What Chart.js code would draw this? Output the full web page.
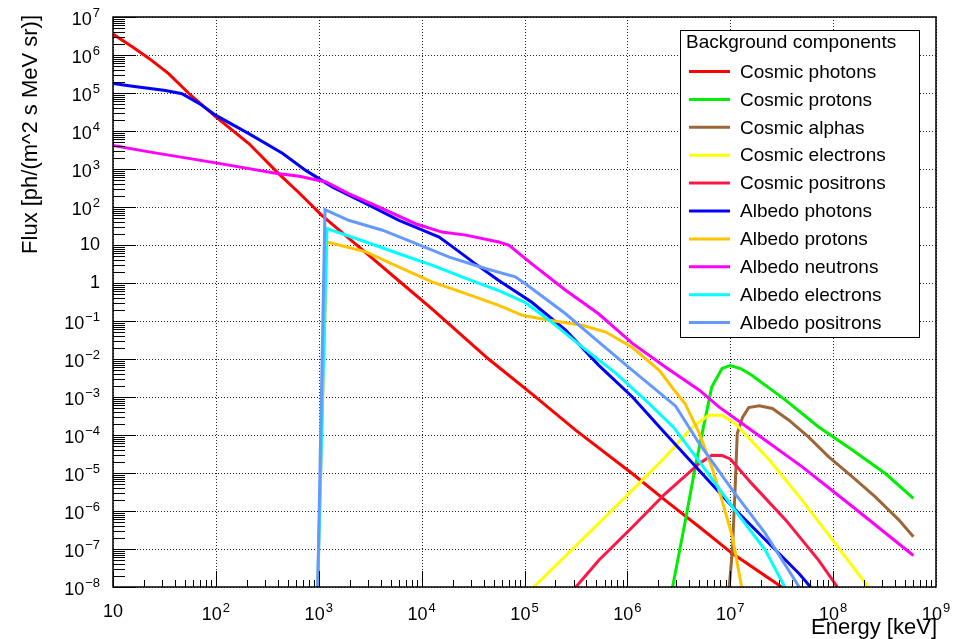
<!DOCTYPE html>
<html>
<head>
<meta charset="utf-8">
<script src="https://cdn.jsdelivr.net/npm/chart.js@4.4.0/dist/chart.umd.min.js"></script>
<style>
  html, body { margin: 0; padding: 0; background: #fff; }
  #wrap { width: 954px; height: 639px; }
</style>
</head>
<body>
<div id="wrap"><canvas id="fluxChart" width="954" height="639"></canvas></div>
<script>
// Background spectra, energy in keV, flux in ph/(m^2 s MeV sr)
const cosmicPhotonsE = [10, 15.5, 22.4, 34.7, 55, 100, 209, 407, 646, 1070, 2880, 6030, 1.26e4, 4.47e4, 1.17e5, 3.16e5, 1.12e6, 2.34e6, 5.01e6, 1.05e7, 3.16e7];
const cosmicPhotonsF = [3.55e6, 1.62e6, 8.13e5, 3.24e5, 9.55e4, 2.34e4, 4.68e3, 759, 234, 60.3, 6.17, 1.13, 0.209, 1.0e-2, 1.23e-3, 1.32e-4, 9.55e-6, 1.91e-6, 3.80e-7, 7.59e-8, 1e-8];

const cosmicProtonsE = [2.75e6, 3.72e6, 4.57e6, 5.75e6, 6.61e6, 8.32e6, 1e7, 1.26e7, 1.62e7, 3.47e7, 7.24e7, 1.55e8, 3.24e8, 6.03e8];
const cosmicProtonsF = [1e-8, 6.92e-7, 1.45e-5, 2.95e-4, 1.82e-3, 5.62e-3, 6.76e-3, 5.62e-3, 3.72e-3, 8.13e-4, 1.62e-4, 3.98e-5, 9.55e-6, 2.14e-6];

const cosmicAlphasE = [9.77e6, 1.05e7, 1.12e7, 1.17e7, 1.32e7, 1.51e7, 1.91e7, 2.57e7, 3.72e7, 5.75e7, 9.12e7, 1.55e8, 2.57e8, 4.37e8, 6.03e8];
const cosmicAlphasF = [1e-8, 9.33e-8, 5.25e-6, 1.10e-4, 2.95e-4, 5.25e-4, 5.89e-4, 5.01e-4, 2.45e-4, 8.91e-5, 2.63e-5, 7.76e-6, 2.34e-6, 5.75e-7, 2.09e-7];

const cosmicElectronsE = [1.23e5, 5.25e5, 1.12e6, 2.34e6, 4.27e6, 6.17e6, 8.32e6, 1.12e7, 2.40e7, 5.01e7, 1.05e8, 2.19e8];
const cosmicElectronsF = [1e-8, 4.68e-7, 3.55e-6, 2.63e-5, 1.62e-4, 3.31e-4, 3.31e-4, 2.0e-4, 2.19e-5, 1.91e-6, 1.38e-7, 1e-8];

const cosmicPositronsE = [3.16e5, 5.25e5, 1.12e6, 2.34e6, 5.01e6, 6.61e6, 8.32e6, 1e7, 1.62e7, 3.47e7, 7.24e7, 1.10e8];
const cosmicPositronsF = [1e-8, 5.01e-8, 3.80e-7, 2.88e-6, 1.78e-5, 2.95e-5, 2.88e-5, 2.34e-5, 5.25e-6, 5.75e-7, 5.01e-8, 1e-8];

const albedoPhotonsE = [10, 15.5, 32.4, 46.8, 69.2, 100, 209, 447, 741, 1350, 2880, 6030, 1.02e4, 1.48e4, 2.0e4, 3.31e4, 5.62e4, 1.17e5, 2.51e5, 5.25e5, 1.12e6, 2.34e6, 1.05e7, 4.68e7, 6.03e7];
const albedoPhotonsF = [1.78e5, 1.51e5, 1.17e5, 9.55e4, 5.25e4, 2.57e4, 8.51e3, 2.57e3, 933, 339, 123, 44.7, 24.5, 16.2, 8.91, 3.24, 1.17, 0.316, 5.75e-2, 6.92e-3, 1e-3, 1.10e-4, 1.29e-6, 2.24e-8, 1e-8];

const albedoProtonsE = [977, 1200, 2880, 6030, 1.26e4, 2.69e4, 5.62e4, 9.55e4, 1.74e5, 3.63e5, 6.17e5, 1.12e6, 2.04e6, 2.82e6, 3.63e6, 5.01e6, 6.61e6, 8.32e6, 1.05e7, 1.29e7];
const albedoProtonsF = [1e-8, 12.0, 6.61, 2.63, 1.07, 0.525, 0.257, 0.141, 0.105, 7.76e-2, 5.13e-2, 2.0e-2, 5.01e-3, 1.58e-3, 6.76e-4, 1.10e-4, 1.45e-5, 1.91e-6, 2.09e-7, 1e-8];

const albedoNeutronsE = [10, 22.4, 100, 380, 646, 1175, 1950, 4170, 8710, 1.58e4, 2.69e4, 5.62e4, 7.08e4, 1.17e5, 2.51e5, 5.25e5, 1.12e6, 2.34e6, 5.01e6, 7.76e6, 1.62e7, 5.01e7, 1.55e8, 6.03e8];
const albedoNeutronsF = [4.17e3, 2.82e3, 1.45e3, 776, 646, 457, 224, 91.2, 36.3, 21.9, 18.2, 12.0, 9.77, 3.24, 0.646, 0.155, 2.57e-2, 6.17e-3, 1.51e-3, 5.50e-4, 1.32e-4, 1.45e-5, 1.29e-6, 6.76e-8];

const albedoElectronsE = [977, 1200, 2880, 6030, 1.26e4, 2.69e4, 5.62e4, 1e5, 1.74e5, 3.63e5, 7.76e5, 1.62e6, 2.82e6, 5.01e6, 1.05e7, 2.19e7, 3.39e7];
const albedoElectronsF = [1e-8, 26.9, 12.0, 5.89, 2.95, 1.32, 0.631, 0.316, 0.105, 2.09e-2, 4.17e-3, 6.76e-4, 1.58e-4, 2.0e-5, 1.29e-6, 9.33e-8, 1e-8];

const albedoPositronsE = [977, 1150, 1950, 4170, 8710, 1.86e4, 4.17e4, 8.13e4, 1.02e5, 2.51e5, 5.25e5, 1.12e6, 2.95e6, 5.01e6, 1.05e7, 2.19e7, 4.68e7];
const albedoPositronsF = [1e-8, 85.1, 44.7, 24.5, 11.0, 4.79, 2.40, 1.45, 0.955, 0.155, 2.82e-2, 5.01e-3, 5.75e-4, 5.89e-5, 3.55e-6, 2.57e-7, 1e-8];

const seriesNames = ['Cosmic photons', 'Cosmic protons', 'Cosmic alphas', 'Cosmic electrons', 'Cosmic positrons',
                     'Albedo photons', 'Albedo protons', 'Albedo neutrons', 'Albedo electrons', 'Albedo positrons'];
const seriesColors = ['#ff0000', '#00ee00', '#9c6637', '#ffff00', '#ff1744',
                      '#0000ff', '#ffc400', '#ff00ff', '#00ffff', '#6699ff'];
const seriesData = [
    [cosmicPhotonsE, cosmicPhotonsF], [cosmicProtonsE, cosmicProtonsF], [cosmicAlphasE, cosmicAlphasF],
    [cosmicElectronsE, cosmicElectronsF], [cosmicPositronsE, cosmicPositronsF],
    [albedoPhotonsE, albedoPhotonsF], [albedoProtonsE, albedoProtonsF], [albedoNeutronsE, albedoNeutronsF],
    [albedoElectronsE, albedoElectronsF], [albedoPositronsE, albedoPositronsF]
];

// decade exponents used for tick labels
const xTickExps = [1, 2, 3, 4, 5, 6, 7, 8, 9];
const yTickExps = [7, 6, 5, 4, 3, 2, 1, 0, -1, -2, -3, -4, -5, -6, -7, -8];

const legendTitle = 'Background components';
const xTitle = 'Energy [keV]';
const yTitle = 'Flux [ph/(m^2 s MeV sr)]';
const FONT = '"Liberation Sans", Arial, Helvetica, sans-serif';

function line(ctx, x1, y1, x2, y2) {
    ctx.beginPath();
    ctx.moveTo(x1, y1);
    ctx.lineTo(x2, y2);
    ctx.stroke();
}

// draws "10^e" like ROOT does: big base, small raised exponent
function powerLabel(ctx, e, x, y, mode) {
    const base = e === 0 ? '1' : '10';
    const sup = (e === 0 || e === 1) ? '' : String(e).replace('-', '\u2212');
    ctx.font = '18px ' + FONT;
    const wb = ctx.measureText(base).width;
    ctx.font = '13px ' + FONT;
    const ws = sup ? ctx.measureText(sup).width + 1 : 0;
    const total = wb + ws;
    const left = mode === 'right' ? x - total : x - total / 2;
    const shift = sup ? 3 : 0;
    ctx.textAlign = 'left';
    ctx.textBaseline = 'middle';
    ctx.font = '18px ' + FONT;
    ctx.fillText(base, left, y + shift);
    if (sup) {
        ctx.font = '13px ' + FONT;
        ctx.fillText(sup, left + wb + 1, y - 4);
    }
}

const rootStyle = {
    id: 'rootStyle',
    beforeDatasetsDraw(chart) {
        const { ctx, chartArea: a, scales: { x, y } } = chart;
        ctx.save();
        ctx.strokeStyle = '#222';
        ctx.lineWidth = 1;
        ctx.setLineDash([1, 2]);
        xTickExps.forEach(e => {
            const px = Math.round(x.getPixelForValue(Math.pow(10, e))) + 0.5;
            line(ctx, px, a.top, px, a.bottom);
        });
        yTickExps.forEach(e => {
            const py = Math.round(y.getPixelForValue(Math.pow(10, e))) + 0.5;
            line(ctx, a.left, py, a.right, py);
        });
        ctx.restore();
    },
    afterDatasetsDraw(chart) {
        const { ctx, chartArea: a, scales: { x, y } } = chart;
        ctx.save();
        ctx.fillStyle = '#000';
        ctx.strokeStyle = '#000';

        // frame
        ctx.lineWidth = 1.5;
        ctx.strokeRect(a.left, a.top, a.right - a.left, a.bottom - a.top);

        // ticks, pointing into the frame
        ctx.lineWidth = 1;
        for (let e = 1; e < 9; e++) {
            for (let m = 1; m < 10; m++) {
                const px = Math.round(x.getPixelForValue(m * Math.pow(10, e))) + 0.5;
                line(ctx, px, a.bottom, px, a.bottom - (m === 1 ? 16 : 7));
            }
        }
        for (let e = -8; e < 7; e++) {
            for (let m = 1; m < 10; m++) {
                const py = Math.round(y.getPixelForValue(m * Math.pow(10, e))) + 0.5;
                line(ctx, a.left, py, a.left + (m === 1 ? 23 : 12), py);
            }
        }
        const topY = Math.round(y.getPixelForValue(1e7)) + 0.5;
        line(ctx, a.left, topY, a.left + 23, topY);

        // tick labels
        xTickExps.forEach(e => powerLabel(ctx, e, x.getPixelForValue(Math.pow(10, e)), 612, 'center'));
        yTickExps.forEach(e => powerLabel(ctx, e, 100, y.getPixelForValue(Math.pow(10, e)), 'right'));

        // axis titles
        ctx.font = '22px ' + FONT;
        ctx.textAlign = 'right';
        ctx.textBaseline = 'middle';
        ctx.fillText(xTitle, a.right + 1, 628);
        ctx.save();
        ctx.translate(31, a.top - 2);
        ctx.rotate(-Math.PI / 2);
        ctx.fillText(yTitle, 0, 0);
        ctx.restore();

        // legend box
        const lx = 680, ly = 30, lw = 239, lh = 307;
        ctx.fillStyle = '#fff';
        ctx.fillRect(lx, ly, lw, lh);
        ctx.lineWidth = 1;
        ctx.strokeRect(lx + 0.5, ly + 0.5, lw, lh);
        ctx.fillStyle = '#000';
        ctx.font = '19px ' + FONT;
        ctx.textAlign = 'left';
        ctx.fillText(legendTitle, 686, 43);
        chart.data.datasets.forEach((ds, i) => {
            const ry = 71.5 + i * 27.9;
            ctx.strokeStyle = ds.borderColor;
            ctx.lineWidth = 3;
            line(ctx, 689, ry, 730, ry);
            ctx.fillStyle = '#000';
            ctx.fillText(ds.label, 740, ry + 1);
        });
        ctx.restore();
    }
};

const datasets = seriesNames.map((name, i) => ({
    label: name,
    data: seriesData[i][0].map((e, k) => ({ x: e, y: seriesData[i][1][k] })),
    borderColor: seriesColors[i],
    backgroundColor: seriesColors[i],
    borderWidth: 3,
    pointRadius: 0,
    tension: 0,
    fill: false,
    clip: 0,
    order: seriesNames.length - i
}));

new Chart(document.getElementById('fluxChart'), {
    type: 'line',
    data: { datasets: datasets },
    options: {
        responsive: false,
        animation: false,
        devicePixelRatio: 1,
        layout: { padding: { left: 113, right: 18, top: 17, bottom: 52 } },
        plugins: {
            legend: { display: false },
            tooltip: { enabled: false }
        },
        scales: {
            x: { type: 'logarithmic', min: 10, max: 1e9, display: false },
            y: { type: 'logarithmic', min: 1e-8, max: 1e7, display: false }
        }
    },
    plugins: [rootStyle]
});
</script>
</body>
</html>
